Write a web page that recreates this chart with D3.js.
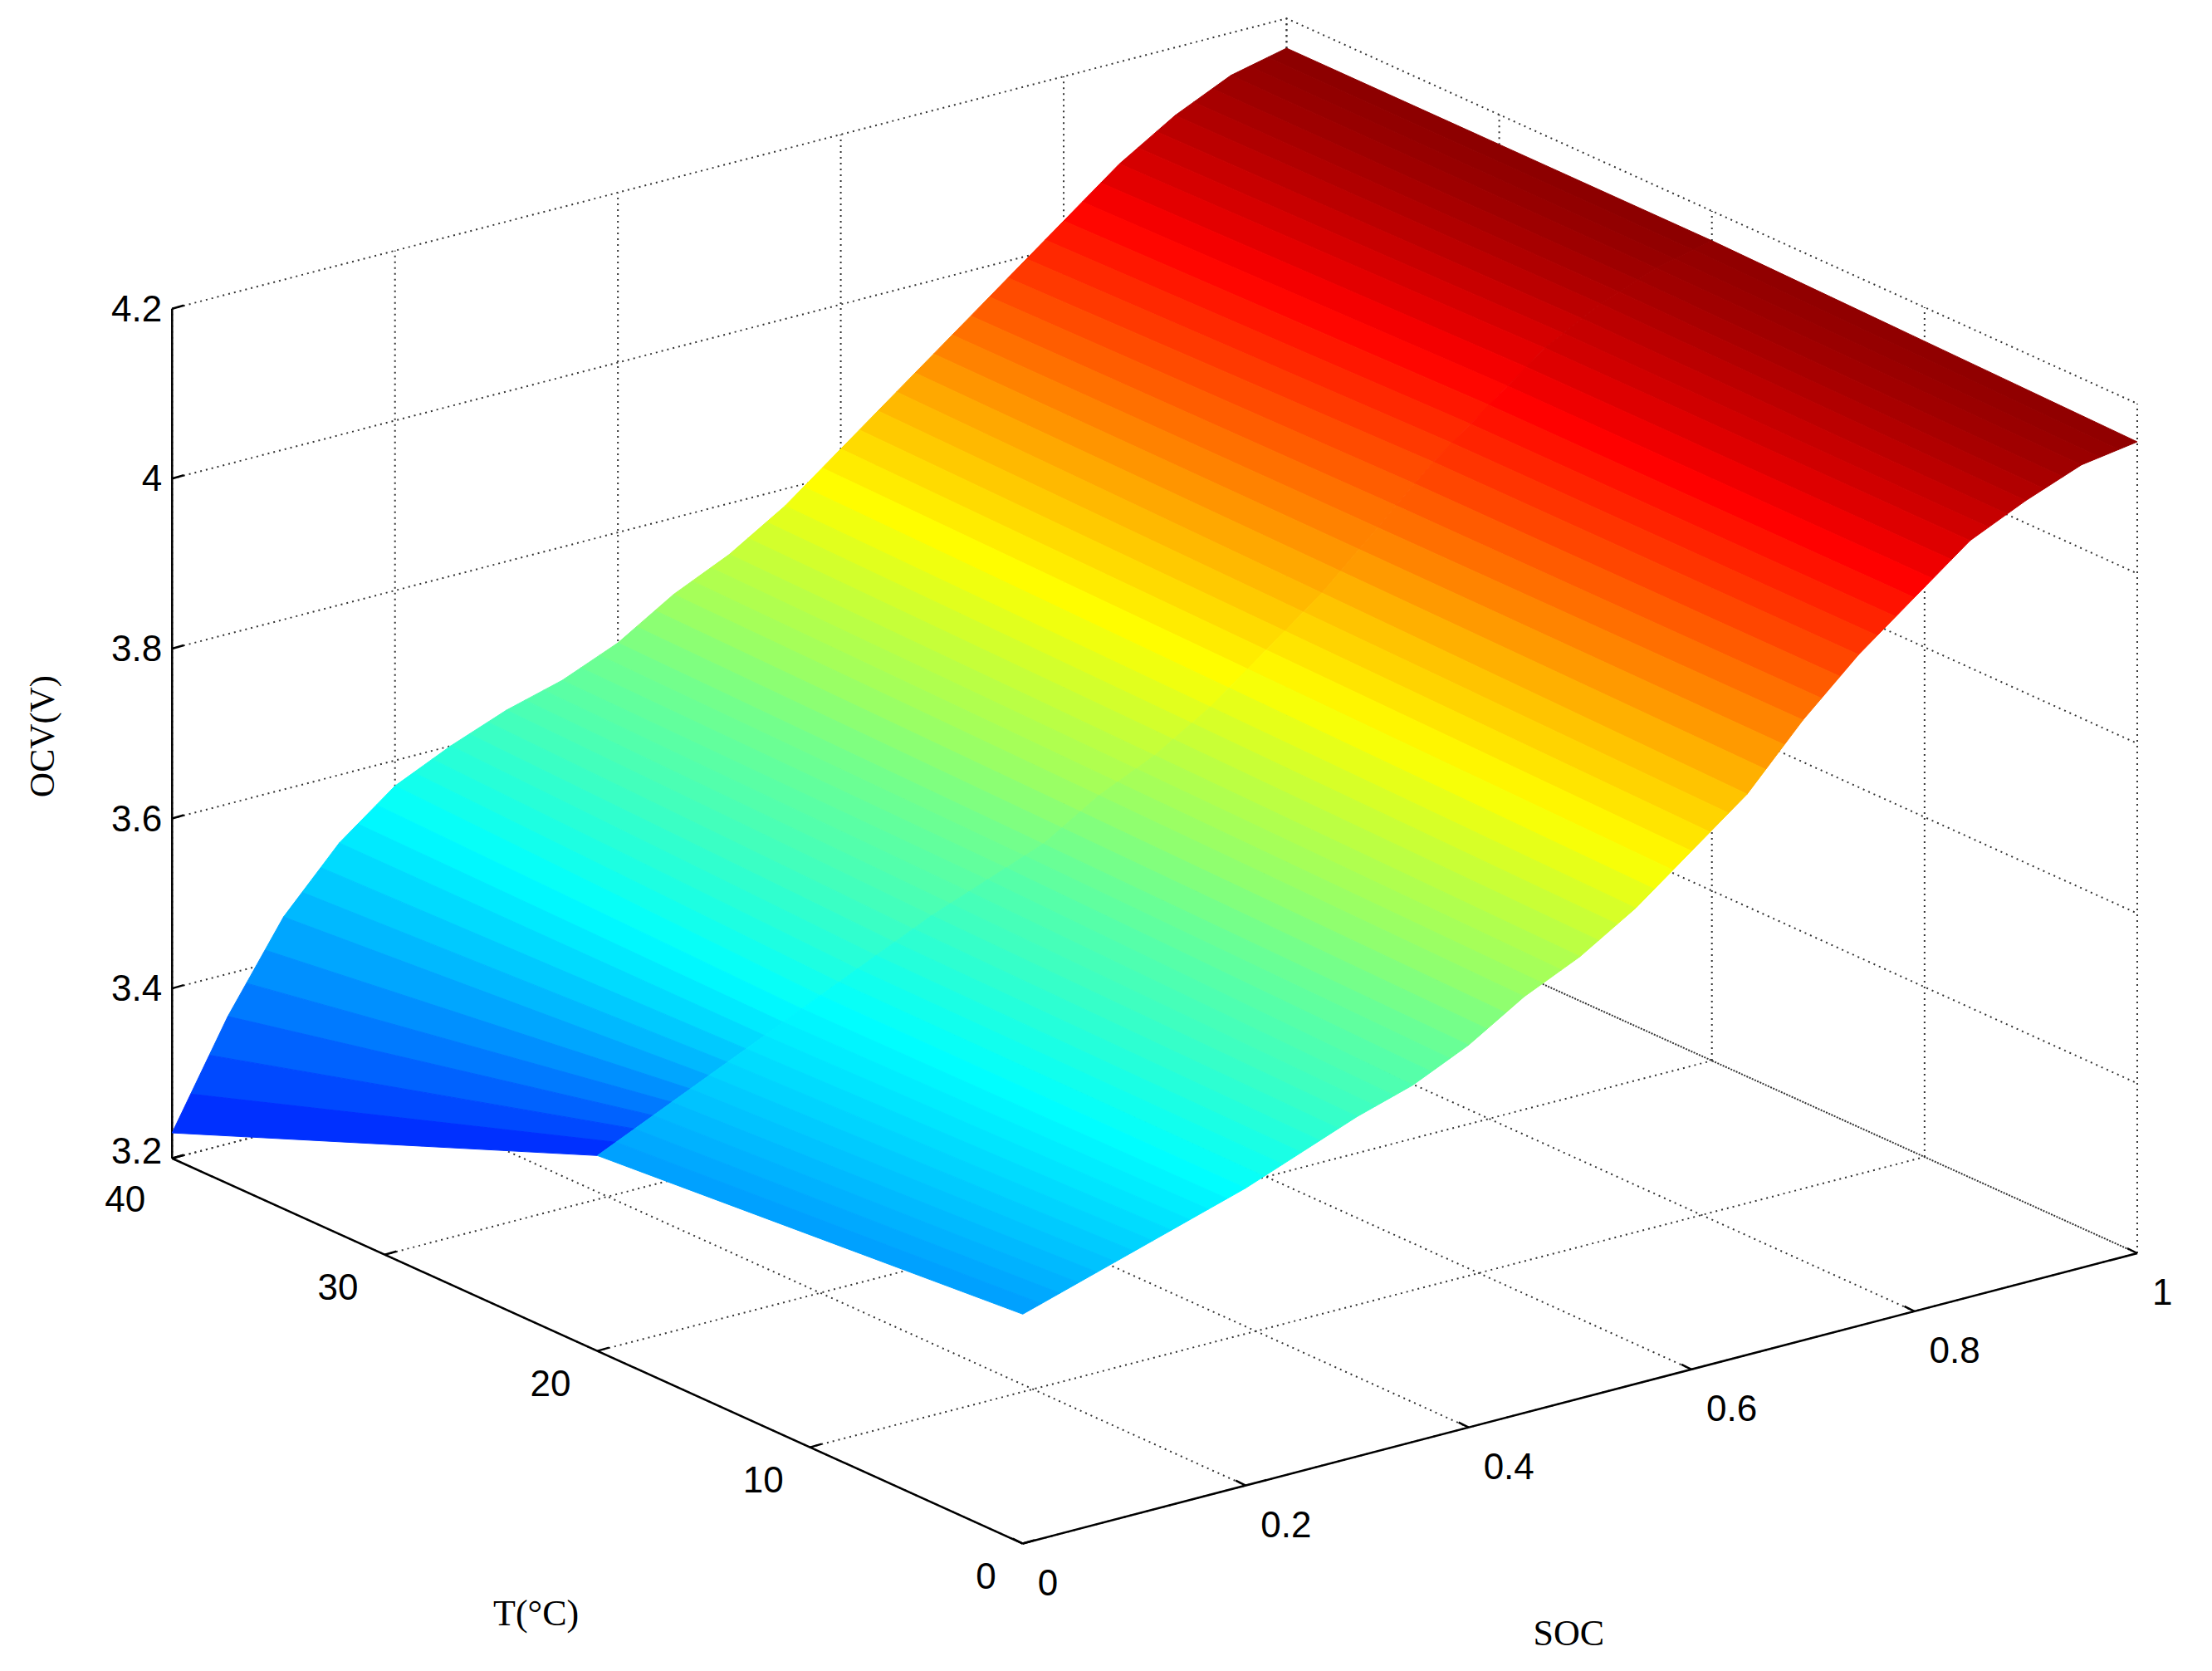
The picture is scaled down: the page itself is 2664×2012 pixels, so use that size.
<!DOCTYPE html>
<html><head><meta charset="utf-8">
<script src="https://cdn.jsdelivr.net/npm/d3@7"></script>
<style>body{margin:0;background:#fff}</style></head>
<body><svg id="c" width="2664" height="2012"></svg>
<script>
const socVals = [0,0.05,0.1,0.15,0.2,0.25,0.3,0.35,0.4,0.45,0.5,0.55,0.6,0.65,0.7,0.75,0.8,0.85,0.9,0.95,1];
const tempVals = [0,20,40];
const ocvT0  = [3.47,3.49,3.51,3.53,3.55,3.575,3.60,3.62,3.65,3.69,3.72,3.76,3.81,3.86,3.93,3.99,4.04,4.09,4.12,4.145,4.155];
const ocvT20 = [3.43,3.46,3.49,3.52,3.55,3.58,3.61,3.635,3.66,3.70,3.73,3.77,3.82,3.87,3.93,3.99,4.04,4.09,4.125,4.15,4.165];
const ocvT40 = [3.23,3.35,3.45,3.52,3.57,3.60,3.625,3.643,3.67,3.71,3.74,3.78,3.83,3.88,3.93,3.98,4.03,4.08,4.12,4.15,4.165];
const ocvRows = [ocvT0, ocvT20, ocvT40];
const socTicks = [0,0.2,0.4,0.6,0.8,1];
const tTicks = [0,10,20,30,40];
const zTicks = [3.2,3.4,3.6,3.8,4.0,4.2];

const kx = 2664/1568, ky = 2012/1180;
const sx = d3.scaleLinear().domain([0,1]).range([0,1]);
const tx = d3.scaleLinear().domain([0,40]).range([0,1]);
const zx = d3.scaleLinear().domain([3.2,4.2]).range([0,1]);
function P(s,t,z){
  const a=sx(s), b=tx(t), c=zx(z);
  return [ (725 + 790*a - 603*b)*kx, (1090 - 205*a - 272*b - 600*c)*ky ];
}
const svg = d3.select('#c');
const lo=3.17, hi=4.175;
const jet = d3.scaleLinear().domain([0,1/8,3/8,5/8,7/8,1].map(v=>lo+v*(hi-lo)))
  .range(['#000080','#0000ff','#00ffff','#ffff00','#ff0000','#800000']).clamp(true);
const line = d3.line();
const dot = {stroke:'#333','stroke-width':2,'stroke-dasharray':'2,5',fill:'none'};
function seg(pts,style){const p=svg.append('path').attr('d',line(pts));for(const k in style)p.attr(k,style[k]);}

zTicks.forEach(z=>{ seg([P(0,40,z),P(1,40,z),P(1,0,z)],dot); });
socTicks.forEach(s=>{ seg([P(s,40,3.2),P(s,40,4.2)],dot); seg([P(s,0,3.2),P(s,40,3.2)],dot); });
tTicks.forEach(t=>{ seg([P(1,t,3.2),P(1,t,4.2)],dot); seg([P(0,t,3.2),P(1,t,3.2)],dot); });
const solid={stroke:'#000','stroke-width':2.5,fill:'none'};
seg([P(0,40,3.2),P(0,40,4.2)],solid);
seg([P(0,0,3.2),P(1,0,3.2)],solid);
seg([P(0,0,3.2),P(0,40,3.2)],solid);

const SUB=3;
const cells=[];
for(let j=0;j<tempVals.length-1;j++)for(let i=0;i<socVals.length-1;i++){
  const z00=ocvRows[j][i], z10=ocvRows[j][i+1], z01=ocvRows[j+1][i], z11=ocvRows[j+1][i+1];
  const s0=socVals[i], s1=socVals[i+1], t0=tempVals[j], t1=tempVals[j+1];
  for(let k=0;k<SUB;k++){
    const u0=k/SUB,u1=(k+1)/SUB;
    const sa=s0+(s1-s0)*u0, sb=s0+(s1-s0)*u1;
    const za0=z00+(z10-z00)*u0, zb0=z00+(z10-z00)*u1, za1=z01+(z11-z01)*u0, zb1=z01+(z11-z01)*u1;
    cells.push({pts:[P(sa,t0,za0),P(sb,t0,zb0),P(sb,t1,zb1),P(sa,t1,za1)],
      z:(za0+zb0+za1+zb1)/4, d:sa+tx(t0)});
  }
}
cells.sort((a,b)=>b.d-a.d);
svg.append('g').selectAll('path').data(cells).join('path')
  .attr('d',c=>line(c.pts)+'Z').attr('fill',c=>jet(c.z)).attr('stroke',c=>jet(c.z)).attr('stroke-width',1);

const fs=44;
zTicks.forEach(z=>{const p=P(0,40,z);
  seg([p,[p[0]+14,p[1]-4]],solid);
  svg.append('text').attr('x',p[0]-12).attr('y',p[1]+(z===3.2?6:15)).attr('text-anchor','end')
   .attr('font-family','Liberation Sans, Arial').attr('font-size',fs).text(z===4?'4':z.toFixed(1));});
tTicks.forEach(t=>{const p=P(0,t,3.2);
  seg([p,[p[0]+14,p[1]-4]],solid);
  svg.append('text').attr('x',p[0]-32).attr('y',p[1]+(t===40?64:54)).attr('text-anchor','end')
   .attr('font-family','Liberation Sans, Arial').attr('font-size',fs).text(t);});
socTicks.forEach(s=>{const p=P(s,0,3.2);
  seg([p,[p[0]-12,p[1]-6]],solid);
  svg.append('text').attr('x',p[0]+18).attr('y',p[1]+62).attr('text-anchor','start')
   .attr('font-family','Liberation Sans, Arial').attr('font-size',fs).text(s);});
const serif='Liberation Serif, Times New Roman';
svg.append('text').attr('transform',`translate(${30*kx+14},${520*ky}) rotate(-90)`).attr('text-anchor','middle')
  .attr('font-family',serif).attr('font-size',42).text('OCV(V)');
svg.append('text').attr('x',380*kx).attr('y',1148*ky).attr('text-anchor','middle')
  .attr('font-family',serif).attr('font-size',44).text('T(°C)');
svg.append('text').attr('x',1112*kx).attr('y',1162*ky).attr('text-anchor','middle')
  .attr('font-family',serif).attr('font-size',44).text('SOC');
</script></body></html>
